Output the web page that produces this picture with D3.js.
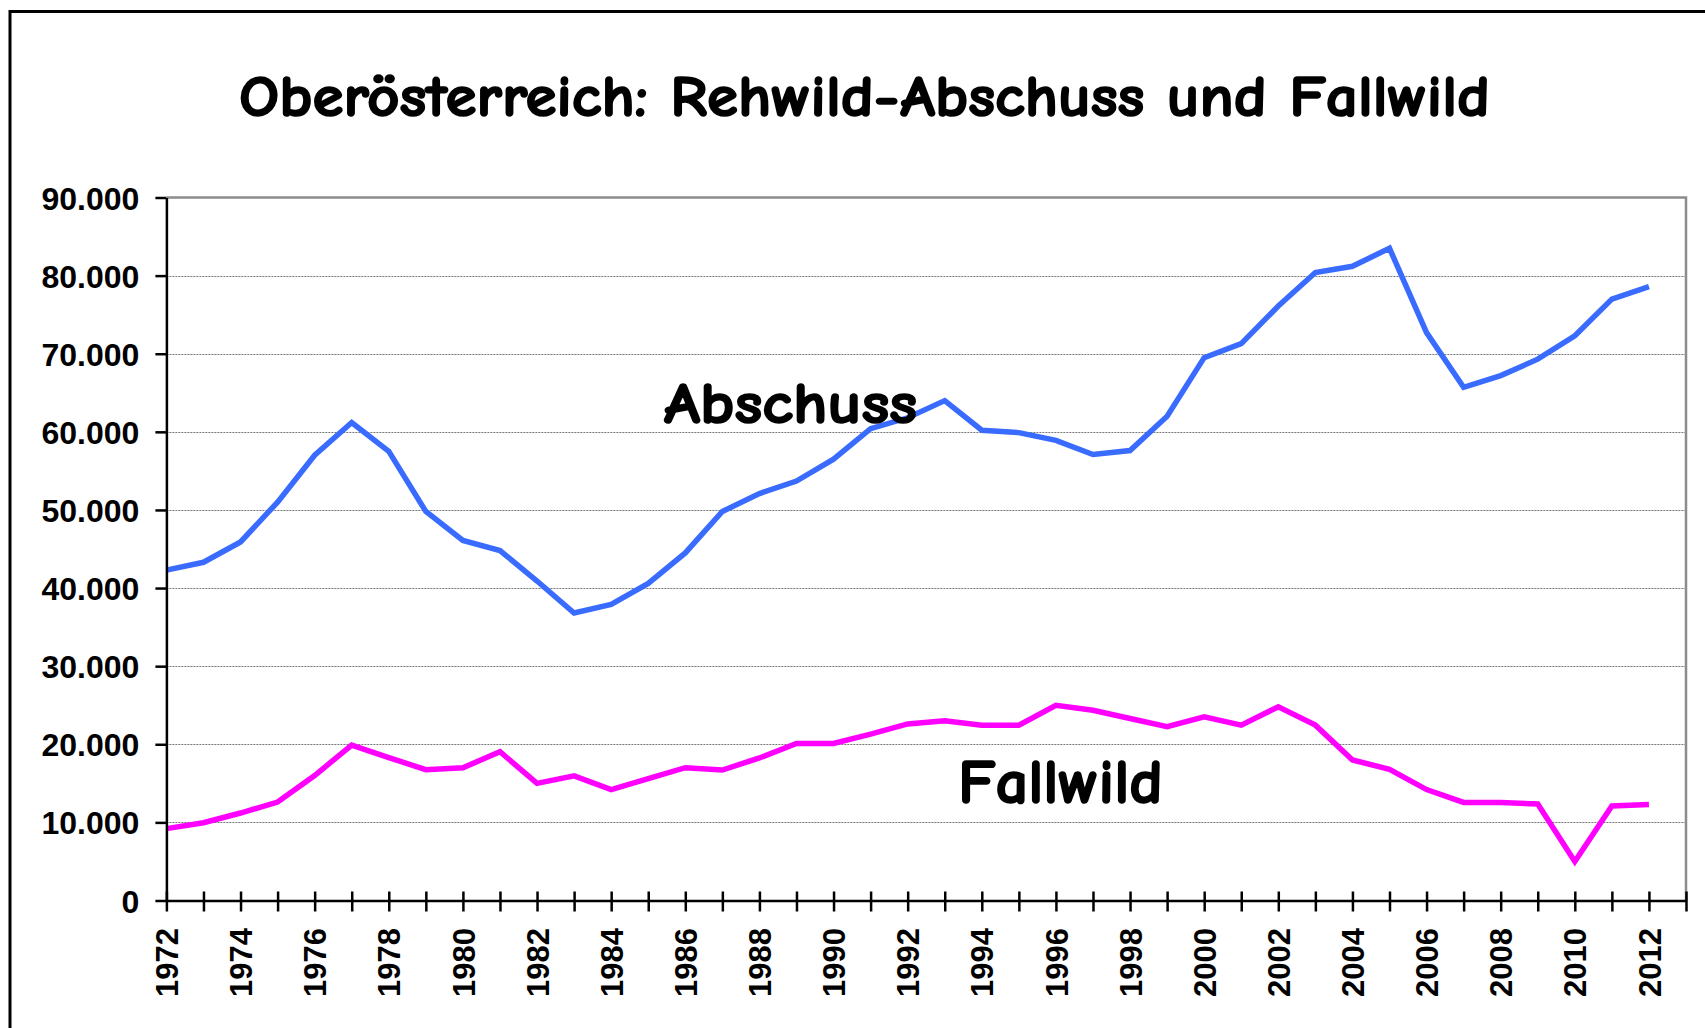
<!DOCTYPE html>
<html>
<head>
<meta charset="utf-8">
<script src="https://cdn.jsdelivr.net/npm/d3@7.9.0/dist/d3.min.js"></script>
<style>
  body { margin: 0; background: #fff; }
  svg { display: block; }
  .tick text { font-family: 'Liberation Sans', Arial, sans-serif; font-weight: bold; fill: #000; }
  .comic { font-family: 'Comic Sans MS', 'Comic Neue', Lato, sans-serif; font-weight: bold; fill: #000;
    stroke: #000; stroke-width: 1.6px; stroke-linejoin: round; }
</style>
</head>
<body>
<div id="chart"></div>
<script>
// categories: the axis has one empty slot after 2012
const years = [1972, 1973, 1974, 1975, 1976, 1977, 1978, 1979, 1980, 1981,
  1982, 1983, 1984, 1985, 1986, 1987, 1988, 1989, 1990, 1991,
  1992, 1993, 1994, 1995, 1996, 1997, 1998, 1999, 2000, 2001,
  2002, 2003, 2004, 2005, 2006, 2007, 2008, 2009, 2010, 2011,
  2012, 2013];

const abschuss = [42300, 43300, 45900, 51000, 57000, 61200, 57500, 49800, 46100, 44800,
  40900, 36800, 37900, 40600, 44500, 49800, 52100, 53700, 56500, 60400,
  61800, 64000, 60200, 59900, 58900, 57100, 57600, 62000, 69500, 71300,
  76100, 80400, 81200, 83500, 72700, 65700, 67200, 69300, 72300, 77000,
  78600];

const fallwild = [9200, 9950, 11200, 12600, 16000, 19900, 18300, 16750, 17000, 19050,
  15000, 15950, 14200, 15600, 17000, 16700, 18250, 20100, 20100, 21300,
  22600, 23000, 22450, 22450, 25000, 24350, 23300, 22250, 23500, 22450,
  24800, 22450, 18000, 16800, 14200, 12550, 12550, 12350, 5000, 12100,
  12300];

const yTicks = [0, 10000, 20000, 30000, 40000, 50000, 60000, 70000, 80000, 90000];
const labelledYears = [1972, 1974, 1976, 1978, 1980, 1982, 1984, 1986, 1988, 1990,
  1992, 1994, 1996, 1998, 2000, 2002, 2004, 2006, 2008, 2010, 2012];

const title = 'Oberösterreich: Rehwild-Abschuss und Fallwild';

const width = 1705;
const height = 1028;
const plot = { left: 166.4, right: 1686, top: 197.5, bottom: 900.5 };

const svg = d3.select('#chart')
  .append('svg')
  .attr('width', width)
  .attr('height', height);

svg.append('rect').attr('width', width).attr('height', height).attr('fill', '#fff');

// outer frame (right and bottom edges fall outside the picture)
svg.append('rect')
  .attr('x', 10).attr('y', 11.5)
  .attr('width', 1800).attr('height', 1100)
  .attr('fill', 'none').attr('stroke', '#000').attr('stroke-width', 3);

const x = d3.scalePoint().domain(years).range([plot.left, plot.right]);
const y = d3.scaleLinear().domain([0, 90000]).range([plot.bottom, plot.top]);

const deFormat = d3.formatLocale({ decimal: ',', thousands: '.', grouping: [3], currency: ['', '€'] }).format(',.0f');

// gridlines
svg.append('g')
  .selectAll('line')
  .data(yTicks.filter(d => d > 0 && d < 90000))
  .join('line')
  .attr('x1', plot.left).attr('x2', plot.right)
  .attr('y1', d => Math.round(y(d)) + 0.5).attr('y2', d => Math.round(y(d)) + 0.5)
  .attr('stroke', '#777').attr('stroke-width', 1).attr('stroke-dasharray', '2,1');

// plot area border (top and right)
svg.append('path')
  .attr('d', `M${plot.left},${y(90000)}H${plot.right}V${plot.bottom}`)
  .attr('fill', 'none').attr('stroke', '#8c8c8c').attr('stroke-width', 2.5);

// lines
const line = (values) => d3.line()
  .x((d, i) => x(years[i]))
  .y(d => y(d))(values);

svg.append('path')
  .attr('d', line(abschuss))
  .attr('fill', 'none').attr('stroke', '#3a6bff').attr('stroke-width', 5.5);

svg.append('path')
  .attr('d', line(fallwild))
  .attr('fill', 'none').attr('stroke', '#ff00ff').attr('stroke-width', 5.5);

// y axis
const yAxis = svg.append('g')
  .attr('transform', `translate(${plot.left},0)`)
  .call(d3.axisLeft(y).tickValues(yTicks).tickFormat(deFormat).tickSize(11).tickSizeOuter(0).tickPadding(16));
yAxis.select('.domain').attr('stroke', '#000').attr('stroke-width', 2.5);
yAxis.selectAll('.tick line').attr('stroke', '#000').attr('stroke-width', 2.5);
yAxis.selectAll('.tick text').style('font-size', '32px').attr('dy', '0.36em');

// x axis with crossing ticks
const xAxis = svg.append('g')
  .attr('transform', `translate(0,${plot.bottom})`)
  .call(d3.axisBottom(x).tickValues(years)
    .tickFormat(d => labelledYears.includes(d) ? String(d) : '')
    .tickSize(11).tickSizeOuter(0));
xAxis.select('.domain').attr('stroke', '#000').attr('stroke-width', 2.5);
xAxis.selectAll('.tick line').attr('y1', -9).attr('stroke', '#000').attr('stroke-width', 2.5);
xAxis.selectAll('.tick text')
  .style('font-size', '31px')
  .attr('transform', 'rotate(-90)')
  .attr('x', -27.5)
  .attr('y', 0)
  .attr('dy', '0.36em')
  .style('text-anchor', 'end');

// title and series labels
svg.append('text')
  .attr('class', 'comic')
  .attr('x', 239).attr('y', 116)
  .attr('textLength', 1251).attr('lengthAdjust', 'spacingAndGlyphs')
  .style('font-size', '58px')
  .text(title);

svg.append('text')
  .attr('class', 'comic')
  .attr('x', 664).attr('y', 423)
  .attr('textLength', 253).attr('lengthAdjust', 'spacingAndGlyphs')
  .style('font-size', '58px')
  .text('Abschuss');

svg.append('text')
  .attr('class', 'comic')
  .attr('x', 958).attr('y', 803)
  .attr('textLength', 205).attr('lengthAdjust', 'spacingAndGlyphs')
  .style('font-size', '62px')
  .text('Fallwild');
</script>
</body>
</html>
